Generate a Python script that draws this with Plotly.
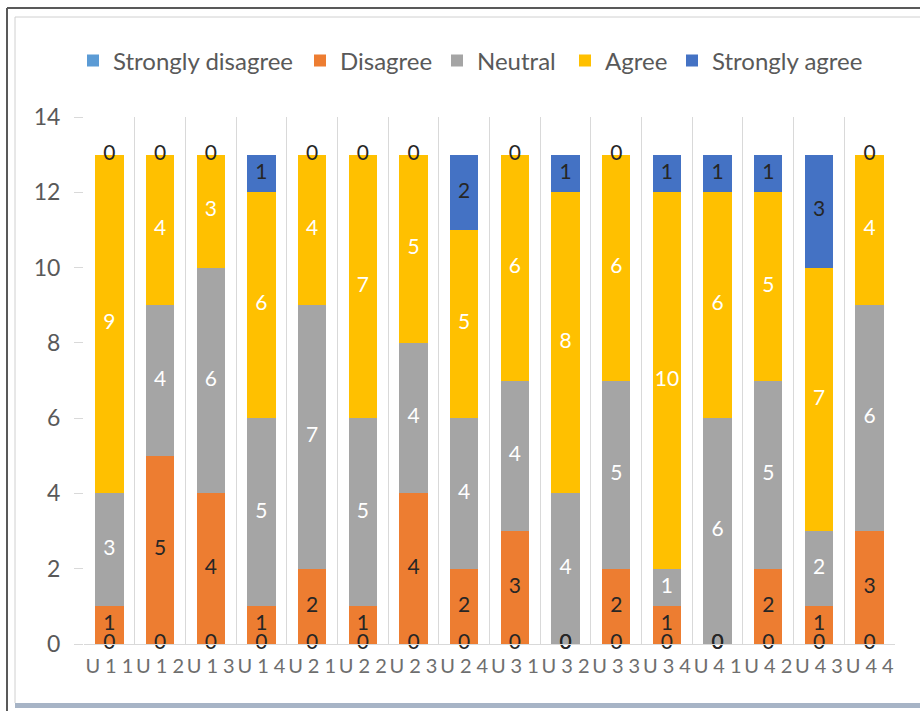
import plotly.graph_objects as go

categories = ["U11", "U12", "U13", "U14", "U21", "U22", "U23", "U24",
              "U31", "U32", "U33", "U34", "U41", "U42", "U43", "U44"]
SP = "\u2009\u2009"
tick_labels = [c[0] + SP + c[1] + SP + c[2] for c in categories]

strongly_disagree = [0, 0, 0, 0, 0, 0, 0, 0, 0, 0, 0, 0, 0, 0, 0, 0]
disagree = [1, 5, 4, 1, 2, 1, 4, 2, 3, 0, 2, 1, 0, 2, 1, 3]
neutral = [3, 4, 6, 5, 7, 5, 4, 4, 4, 4, 5, 1, 6, 5, 2, 6]
agree = [9, 4, 3, 6, 4, 7, 5, 5, 6, 8, 6, 10, 6, 5, 7, 4]
strongly_agree = [0, 0, 0, 1, 0, 0, 0, 2, 0, 1, 0, 1, 1, 1, 3, 0]

series = [
    ("Strongly disagree", strongly_disagree, "#5B9BD5", "#262626"),
    ("Disagree", disagree, "#ED7D31", "#262626"),
    ("Neutral", neutral, "#A5A5A5", "#FFFFFF"),
    ("Agree", agree, "#FFC000", "#FFFFFF"),
    ("Strongly agree", strongly_agree, "#4472C4", "#262626"),
]

FONT = "Lato, Open Sans, sans-serif"
GREY = "#595959"

# plot-area geometry in pixels
W, H = 920, 711
L, R, T, B = 84, 895, 117, 644


def px_x(p):
    return (p - L) / (R - L)


def px_y(p):
    return (B - p) / (B - T)


# one legend box per series so each entry sits at its own spot in the row
legend_left = [73, 300, 437, 565, 672]
legend_names = ["legend", "legend2", "legend3", "legend4", "legend5"]

fig = go.Figure()

# stacked bars
for (name, vals, color, _), lg in zip(series, legend_names):
    fig.add_trace(go.Bar(
        name=name, x=categories, y=vals, marker=dict(color=color, line=dict(width=0)),
        legend=lg, hoverinfo="x+y+name",
    ))

# value labels centred on each segment (zero-height segments included)
base = [0] * len(categories)
for name, vals, color, txtcolor in series:
    mids = [b + v / 2 for b, v in zip(base, vals)]
    fig.add_trace(go.Scatter(
        x=categories, y=mids, mode="text", text=[str(v) for v in vals],
        textposition="middle center",
        textfont=dict(family=FONT, size=21, color=txtcolor),
        showlegend=False, hoverinfo="skip", cliponaxis=False,
    ))
    base = [b + v for b, v in zip(base, vals)]

shapes = [
    # outer dark frame
    dict(type="line", xref="paper", yref="paper", x0=px_x(7), x1=px_x(7), y0=px_y(8), y1=px_y(711),
         line=dict(color=GREY, width=2), layer="above"),
    dict(type="line", xref="paper", yref="paper", x0=px_x(7), x1=px_x(920), y0=px_y(8), y1=px_y(8),
         line=dict(color=GREY, width=2), layer="above"),
    # inner light frame
    dict(type="line", xref="paper", yref="paper", x0=px_x(15), x1=px_x(15), y0=px_y(17), y1=px_y(703),
         line=dict(color="#D0D0D0", width=1), layer="above"),
    dict(type="line", xref="paper", yref="paper", x0=px_x(15), x1=px_x(920), y0=px_y(17), y1=px_y(17),
         line=dict(color="#D0D0D0", width=1), layer="above"),
    # bottom band
    dict(type="rect", xref="paper", yref="paper", x0=px_x(15), x1=px_x(920), y0=px_y(708), y1=px_y(703),
         fillcolor="#A7B4C6", line=dict(width=0), layer="above"),
]

legend_style = dict(font=dict(family=FONT, size=24, color=GREY), bgcolor="rgba(0,0,0,0)",
                    orientation="h", yanchor="middle", xanchor="left")
legends = {lg: dict(x=px_x(xl), y=px_y(61), **legend_style)
           for lg, xl in zip(legend_names, legend_left)}

fig.update_layout(
    barmode="stack",
    bargap=0.44,
    width=W, height=H,
    margin=dict(l=L, r=W - R, t=T, b=H - B),
    paper_bgcolor="white",
    plot_bgcolor="white",
    font=dict(family=FONT, color=GREY),
    xaxis=dict(
        type="category", tickmode="array", tickvals=categories, ticktext=tick_labels,
        tickson="boundaries", ticks="", showgrid=True, gridcolor="#D9D9D9", gridwidth=1,
        showline=True, linecolor="#D9D9D9", tickfont=dict(family=FONT, size=20, color="#6E6E6E"),
        tickangle=0, ticklabelstandoff=4, automargin=False,
        range=[-0.5, len(categories) - 0.5], fixedrange=True,
    ),
    yaxis=dict(
        range=[0, 14], dtick=2, tick0=0, showgrid=False, zeroline=False,
        ticks="outside", ticklen=9, tickcolor="#D9D9D9", ticklabelstandoff=9,
        tickfont=dict(family=FONT, size=23, color=GREY), showline=False, automargin=False,
    ),
    shapes=shapes,
    showlegend=True,
    **legends,
)

fig.write_html("out.html")
